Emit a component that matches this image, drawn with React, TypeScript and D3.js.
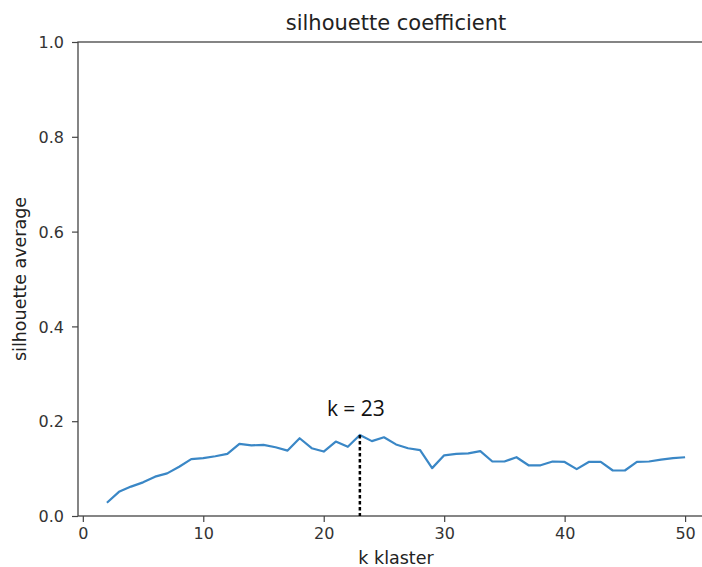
import React, { useEffect, useRef } from 'react';
import * as d3 from 'd3';

const kValues = d3.range(2, 51);
const silhouette = [
  0.028, 0.051, 0.062, 0.071, 0.083, 0.090, 0.104, 0.120, 0.122, 0.126,
  0.131, 0.152, 0.149, 0.150, 0.145, 0.138, 0.164, 0.143, 0.136, 0.157,
  0.146, 0.171, 0.158, 0.166, 0.151, 0.143, 0.139, 0.101, 0.128, 0.131,
  0.132, 0.137, 0.115, 0.115, 0.124, 0.107, 0.107, 0.115, 0.114, 0.099,
  0.114, 0.114, 0.096, 0.096, 0.114, 0.115, 0.119, 0.122, 0.124,
];
const xTicks = [0, 10, 20, 30, 40, 50];
const yTicks = [0, 0.2, 0.4, 0.6, 0.8, 1.0];
const bestK = 23;

function App() {
  const ref = useRef<SVGSVGElement>(null);

  useEffect(() => {
    const svg = d3.select(ref.current);
    svg.selectAll('*').remove();

    const width = 702;
    const height = 567;
    const margin = { top: 42, right: -12, bottom: 51, left: 78 };
    const axisColor = '#444';
    const font = 'DejaVu Sans, sans-serif';

    const x = d3.scaleLinear().domain([-0.4, 52.4]).range([margin.left, width - margin.right]);
    const y = d3.scaleLinear().domain([0, 1]).range([height - margin.bottom, margin.top]);

    const data = kValues.map((k, i) => ({ k, v: silhouette[i] }));

    // frame, right spine falls outside the picture
    svg.append('rect')
      .attr('x', margin.left)
      .attr('y', margin.top)
      .attr('width', x(52.4) - margin.left)
      .attr('height', y(0) - margin.top)
      .attr('fill', 'none')
      .attr('stroke', axisColor)
      .attr('stroke-width', 1.3);

    const xAxis = svg.append('g')
      .attr('transform', `translate(0, ${y(0)})`)
      .call(d3.axisBottom(x).tickValues(xTicks).tickFormat(d3.format('d')).tickSize(6).tickPadding(6));
    const yAxis = svg.append('g')
      .attr('transform', `translate(${margin.left}, 0)`)
      .call(d3.axisLeft(y).tickValues(yTicks).tickFormat(d3.format('.1f')).tickSize(6).tickPadding(8));

    [xAxis, yAxis].forEach((g) => {
      g.select('.domain').remove();
      g.selectAll('line').attr('stroke', axisColor).attr('stroke-width', 1.2);
      g.selectAll('text')
        .attr('fill', '#333')
        .attr('font-family', font)
        .attr('font-size', 16);
    });
    yAxis.selectAll('text').attr('dy', '0.35em');

    // line
    const line = d3.line<{ k: number; v: number }>()
      .x((d) => x(d.k))
      .y((d) => y(d.v));
    svg.append('path')
      .datum(data)
      .attr('fill', 'none')
      .attr('stroke', '#3a87c6')
      .attr('stroke-width', 2.2)
      .attr('stroke-linejoin', 'round')
      .attr('d', line);

    // best k marker
    const best = data.find((d) => d.k === bestK)!;
    svg.append('line')
      .attr('x1', x(bestK)).attr('x2', x(bestK))
      .attr('y1', y(best.v)).attr('y2', y(0))
      .attr('stroke', '#000')
      .attr('stroke-width', 2.5)
      .attr('stroke-dasharray', '3.5,2.5');
    svg.append('text')
      .attr('x', x(bestK) - 4)
      .attr('y', y(best.v) - 19)
      .attr('text-anchor', 'middle')
      .attr('font-family', 'Open Sans, sans-serif')
      .attr('font-size', 21)
      .attr('fill', '#111')
      .text(`k = ${bestK}`);

    // titles
    svg.append('text')
      .attr('x', (margin.left + x(52.4)) / 2).attr('y', 30)
      .attr('text-anchor', 'middle')
      .attr('font-family', font)
      .attr('font-size', 21)
      .attr('fill', '#222')
      .text('silhouette coefficient');
    svg.append('text')
      .attr('x', (margin.left + x(52.4)) / 2).attr('y', 564)
      .attr('text-anchor', 'middle')
      .attr('font-family', font)
      .attr('font-size', 17.5)
      .attr('fill', '#222')
      .text('k klaster');
    svg.append('text')
      .attr('transform', `translate(26, ${y(0.5)}) rotate(-90)`)
      .attr('text-anchor', 'middle')
      .attr('font-family', font)
      .attr('font-size', 17.5)
      .attr('fill', '#222')
      .text('silhouette average');
  }, []);

  return (
    <svg
      ref={ref}
      width={702}
      height={567}
      style={{ position: 'absolute', left: 0, top: 0, background: '#fff' }}
    />
  );
}

export default App;
